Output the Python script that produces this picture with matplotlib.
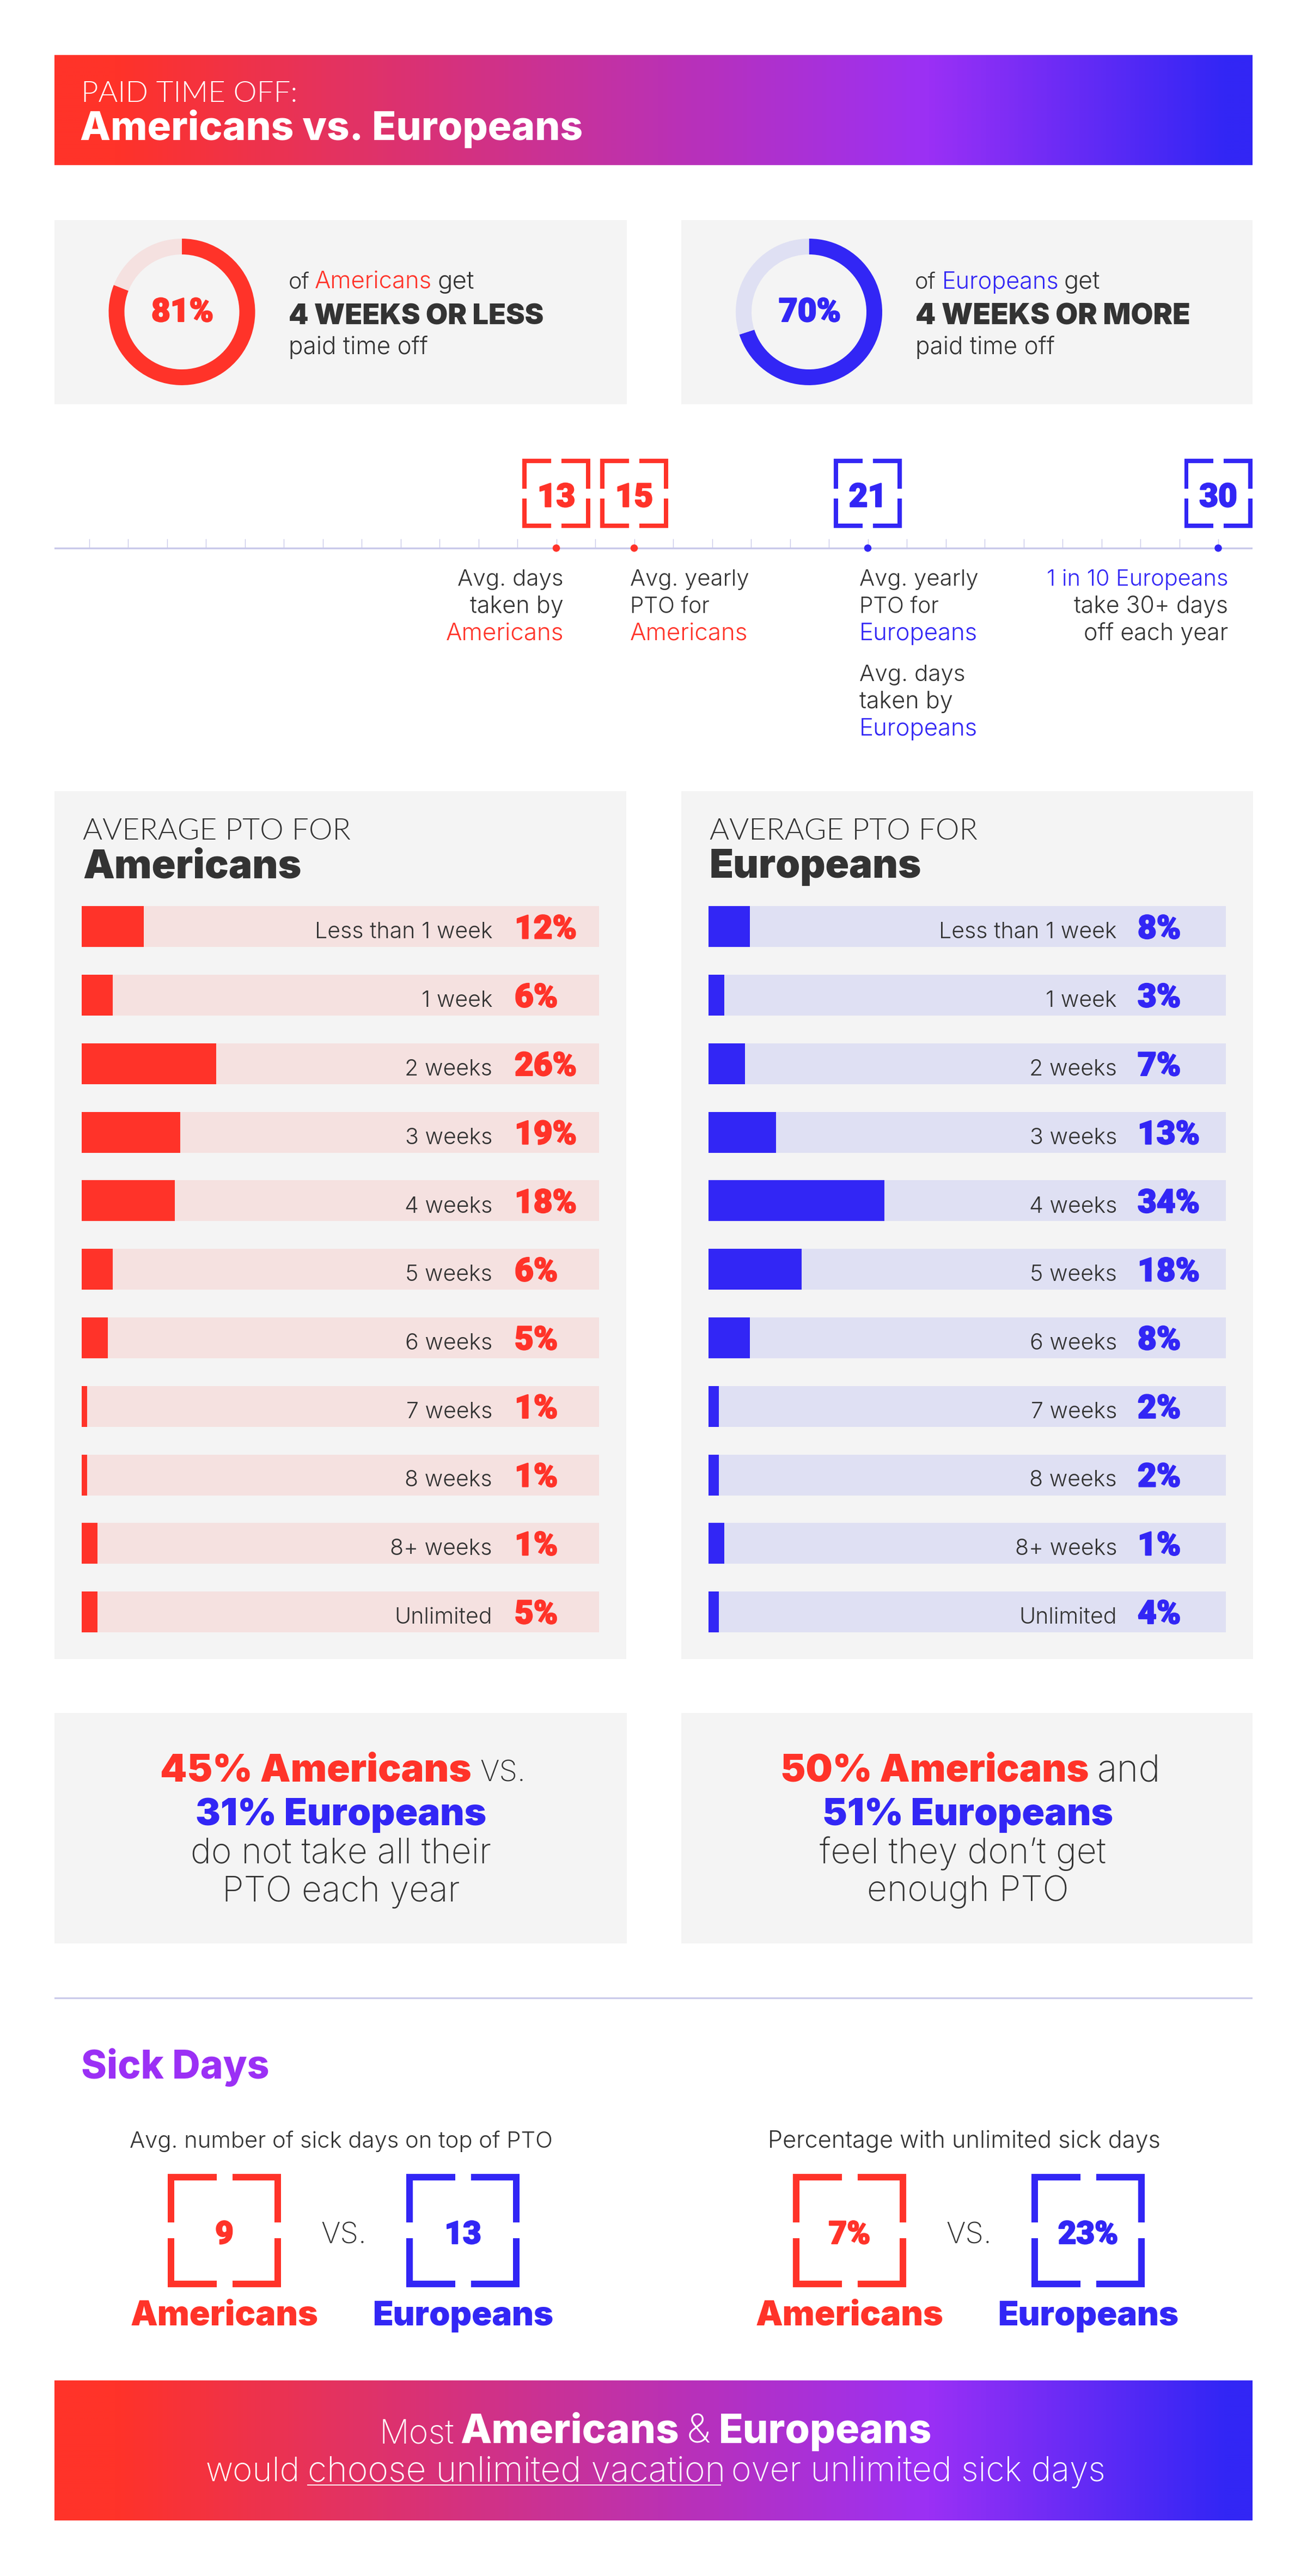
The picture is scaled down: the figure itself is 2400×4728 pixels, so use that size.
import numpy as np
import matplotlib
matplotlib.use('Agg')
import matplotlib.pyplot as plt
import matplotlib.patheffects as pe
from matplotlib.colors import LinearSegmentedColormap
from matplotlib.font_manager import FontProperties
from matplotlib.patches import Rectangle
from matplotlib.textpath import TextPath

# ---------- data ----------
categories = ['Less than 1 week', '1 week', '2 weeks', '3 weeks', '4 weeks', '5 weeks',
              '6 weeks', '7 weeks', '8 weeks', '8+ weeks', 'Unlimited']
american_bars = [12, 6, 26, 19, 18, 6, 5, 1, 1, 3, 3]
american_labels = [12, 6, 26, 19, 18, 6, 5, 1, 1, 1, 5]
european_bars = [8, 3, 7, 13, 34, 18, 8, 2, 2, 3, 2]
european_labels = [8, 3, 7, 13, 34, 18, 8, 2, 2, 1, 4]
american_share = [81, 19]
european_share = [70, 30]
timeline_days = [13, 15, 21, 30]
timeline_ticks = list(range(1, 31))
sick_days = ['9', '13']
unlimited_sick = ['7%', '23%']

RED, BLUE, PURPLE = '#FF3329', '#3226F5', '#9B30F5'
RED_L, BLUE_L = '#F5E1E0', '#DFE0F3'
PANEL, DARK, RULE = '#F4F4F4', '#333333', '#C9C9EA'
FONT, NUM, CAPS = 'Inter', 'Roboto', 'Lato'
W, H = 2400, 4728

fig = plt.figure(figsize=(W / 100, H / 100), dpi=100, facecolor='white')


def px_axes(x0, y0, x1, y1, z):
    a = fig.add_axes([x0 / W, 1 - y1 / H, (x1 - x0) / W, (y1 - y0) / H], zorder=z)
    a.patch.set_alpha(0)
    a.axis('off')
    return a


bg = px_axes(0, 0, W, H, 0)
top = px_axes(0, 0, W, H, 5)


def fit(s, width, weight, font=FONT):
    """font size in points that makes s as wide as width pixels"""
    fp = FontProperties(family=font, weight=weight)
    w100 = TextPath((0, 0), s, size=100, prop=fp).get_extents().width
    return width * 72 / w100


def T(x, y, s, size=None, width=None, weight=300, color=DARK, ha='left', font=FONT):
    if size is None:
        size = fit(s, width, weight, font)
    t = top.text(x, y, s, family=font, fontweight=weight, fontsize=size, color=color,
                 ha=ha, va='baseline')
    if font == NUM:
        t.set_path_effects([pe.withStroke(linewidth=1.6, foreground=color)])
    return t


def rect(x0, y0, x1, y1, color):
    bg.add_patch(Rectangle((x0, y0), x1 - x0, y1 - y0, fc=color, ec='none', lw=0))


def bracket(cx, t, w, h, st, gx, gy, color):
    l, r, b = cx - w / 2, cx + w / 2, t + h
    my = t + h / 2
    rect(l, t, cx - gx / 2, t + st, color)
    rect(cx + gx / 2, t, r, t + st, color)
    rect(l, b - st, cx - gx / 2, b, color)
    rect(cx + gx / 2, b - st, r, b, color)
    rect(l, t, l + st, my - gy / 2, color)
    rect(r - st, t, r, my - gy / 2, color)
    rect(l, my + gy / 2, l + st, b, color)
    rect(r - st, my + gy / 2, r, b, color)


grad = LinearSegmentedColormap.from_list('g', [(0, RED), (0.05, RED), (0.73, PURPLE), (0.98, BLUE), (1, BLUE)])
ramp = np.linspace(0, 1, 1100)[None, :]
for y0, y1 in [(101, 303), (4369, 4626)]:
    bg.imshow(ramp, cmap=grad, extent=(100, 2300, y1, y0), aspect='auto', interpolation='bilinear')
bg.set_xlim(0, W)
bg.set_ylim(H, 0)
top.set_xlim(0, W)
top.set_ylim(H, 0)

# ---------- header ----------
T(149, 187, 'PAID TIME OFF:', width=387, weight=300, color='white', font=CAPS)
T(147, 257, 'Americans vs. Europeans', width=920, weight=800, color='white')

# ---------- donut cards ----------
rect(100, 404, 1151, 742, PANEL)
rect(1251, 404, 2300, 742, PANEL)


def donut(cx, cy, r, values, colors):
    a = px_axes(cx - r, cy - r, cx + r, cy + r, 2)
    a.pie(values, colors=colors, startangle=90, counterclock=False, radius=1,
          wedgeprops=dict(width=29 / r, lw=0))
    a.set_xlim(-1, 1)
    a.set_ylim(-1, 1)


donut(334, 572.5, 134.5, american_share, [RED, RED_L])
donut(1485.5, 572.5, 134.5, european_share, [BLUE, BLUE_L])
num_size = 60 * 0.72
T(335, 590, f'{american_share[0]}%', size=num_size, weight=900, color=RED, ha='center', font=NUM)
T(1487, 590, f'{european_share[0]}%', size=num_size, weight=900, color=BLUE, ha='center', font=NUM)
T(530, 530, 'of', width=36, weight=300)
T(578, 530, 'Americans', width=212, weight=300, color=RED)
T(804, 530, 'get', width=64, weight=300)
T(530, 596, '4 WEEKS OR LESS', width=465, weight=900)
T(530, 650, 'paid time off', width=252, weight=300)
T(1680, 530, 'of', width=36, weight=300)
T(1730, 530, 'Europeans', width=208, weight=300, color=BLUE)
T(1953, 530, 'get', width=63, weight=300)
T(1681, 596, '4 WEEKS OR MORE', width=500, weight=900)
T(1681, 650, 'paid time off', width=252, weight=300)

# ---------- timeline ----------
X0, PER_DAY = 92, 71.5
day_x = lambda d: X0 + PER_DAY * d
tl = px_axes(100, 975, 2300, 1035, 3)
tl.set_xlim((100 - X0) / PER_DAY, (2300 - X0) / PER_DAY)
tl.set_ylim(1035, 975)
tl.vlines(timeline_ticks, 989, 1006, color=RULE, lw=1.0)
tl.axhline(1006, color=RULE, lw=2.4)
day_colors = [RED, RED, BLUE, BLUE]
tl.scatter(timeline_days, [1006] * 4, s=95, c=day_colors, lw=0, zorder=3, clip_on=False)
for d, c in zip(timeline_days, day_colors):
    bracket(day_x(d), 842, 125, 127, 7.6, 19, 18, c)
    T(day_x(d), 930, str(d), size=num_size, weight=900, color=c, ha='center', font=NUM)

for i, (s, w, c) in enumerate([('Avg. days', 191, DARK), ('taken by', 170, DARK), ('Americans', 213, RED)]):
    T(1035, 1075 + 50 * i, s, width=w, color=c, ha='right')
for i, (s, w, c) in enumerate([('Avg. yearly', 216, DARK), ('PTO for', 141, DARK), ('Americans', 213, RED)]):
    T(1157, 1075 + 50 * i, s, width=w, color=c)
for i, (s, w, c) in enumerate([('Avg. yearly', 216, DARK), ('PTO for', 141, DARK), ('Europeans', 211, BLUE)]):
    T(1578, 1075 + 50 * i, s, width=w, color=c)
for i, (s, w, c) in enumerate([('Avg. days', 191, DARK), ('taken by', 170, DARK), ('Europeans', 211, BLUE)]):
    T(1578, 1250 + 50 * i, s, width=w, color=c)
for i, (s, w, c) in enumerate([('1 in 10 Europeans', 329, BLUE), ('take 30+ days', 280, DARK), ('off each year', 262, DARK)]):
    T(2255, 1075 + 50 * i, s, width=w, color=c, ha='right')

# ---------- bar panels ----------
ROW0, ROW_STEP, ROW_H = 1663.5, 125.75, 75
lab_size = fit('Less than 1 week', 322, 300)
val_size = 60 * 0.72
for px0, name, bars, labels, c, light, lab_r, val_x, name_w in [
    (100, 'Americans', american_bars, american_labels, RED, RED_L, 904, 945, 398),
    (1251, 'Europeans', european_bars, european_labels, BLUE, BLUE_L, 2051, 2089, 384),
]:
    rect(px0, 1452, px0 + 1050, 3045, PANEL)
    T(px0 + 52, 1541, 'AVERAGE PTO FOR', width=490, weight=300, font=CAPS)
    T(px0 + 52, 1611, name, width=name_w, weight=900)
    tx = px0 + 50
    a = px_axes(tx, ROW0 + ROW_H / 2 - ROW_STEP / 2, tx + 950, ROW0 + ROW_H / 2 + 10.5 * ROW_STEP, 2)
    a.set_xlim(0, 100)
    ypos = np.arange(len(categories))
    a.barh(ypos, [100] * len(ypos), height=ROW_H / ROW_STEP, color=light, lw=0)
    a.barh(ypos, bars, height=ROW_H / ROW_STEP, color=c, lw=0)
    a.set_ylim(10.5, -0.5)
    for i, (cat, v) in enumerate(zip(categories, labels)):
        base = ROW0 + ROW_STEP * i + 59
        T(lab_r, base, cat, size=lab_size, ha='right')
        T(val_x, base, f'{v}%', size=val_size, weight=900, color=c, font=NUM)

# ---------- callouts ----------
rect(100, 3144, 1151, 3567, PANEL)
rect(1251, 3144, 2300, 3567, PANEL)
T(294, 3270, '45% Americans', width=567, weight=900, color=RED)
T(881, 3270, 'VS.', width=77, weight=200)
T(626, 3350, '31% Europeans', width=530, weight=900, color=BLUE, ha='center')
big_size = fit('do not take all their', 547, 200)
T(626, 3419, 'do not take all their', size=big_size, weight=200, ha='center')
T(626, 3490, 'PTO each year', size=big_size, weight=200, ha='center')
T(1433, 3270, '50% Americans', width=561, weight=900, color=RED)
T(2015, 3270, 'and', width=107, weight=200)
T(1777, 3350, '51% Europeans', width=529, weight=900, color=BLUE, ha='center')
T(1768, 3420, 'feel they don\u2019t get', size=big_size, weight=200, ha='center')
T(1777, 3489, 'enough PTO', size=big_size, weight=200, ha='center')

# ---------- sick days ----------
rect(100, 3666, 2300, 3668.5, RULE)
T(149, 3815, 'Sick Days', width=341, weight=800, color=PURPLE)
T(626.5, 3942, 'Avg. number of sick days on top of PTO', width=773, weight=300, ha='center')
T(1770, 3942, 'Percentage with unlimited sick days', width=715, weight=300, ha='center')
s_size = 58 * 0.72
name_size = fit('Americans', 342, 900)
for cr, cb, vals in [(412, 850, sick_days), (1560, 1998, unlimited_sick)]:
    bracket(cr, 3989.5, 208, 208, 12, 29, 28.5, RED)
    bracket(cb, 3989.5, 208, 208, 12, 29, 28.5, BLUE)
    T(cr, 4118, vals[0], size=s_size, weight=900, color=RED, ha='center', font=NUM)
    T(cb, 4118, vals[1], size=s_size, weight=900, color=BLUE, ha='center', font=NUM)
    T((cr + cb) / 2, 4117, 'VS.', width=77, weight=200, ha='center')
    T(cr, 4268, 'Americans', size=name_size, weight=900, color=RED, ha='center')
    T(cb, 4268, 'Europeans', width=328, weight=900, color=BLUE, ha='center')

# ---------- footer ----------
T(697, 4484, 'Most', width=130, weight=200, color='white')
T(845, 4484, 'Americans', width=398, weight=800, color='white')
T(1261, 4484, '&', width=38, weight=200, color='white')
T(1320, 4484, 'Europeans', width=385, weight=800, color='white')
T(378, 4554, 'would', width=165, weight=200, color='white')
T(565, 4554, 'choose unlimited vacation', width=758, weight=200, color='white')
T(1343, 4554, 'over unlimited sick days', width=680, weight=200, color='white')
top.add_patch(Rectangle((564, 4559.5), 760, 2.5, fc='white', ec='none', lw=0))

fig.savefig('out.png', dpi=100)
